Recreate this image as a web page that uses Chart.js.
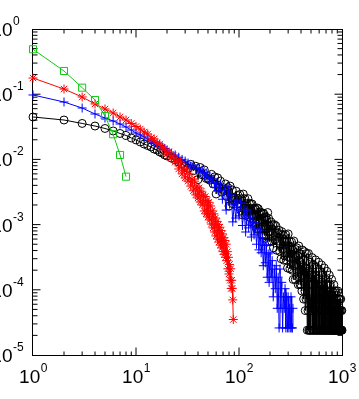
<!DOCTYPE html>
<html lang="en">
<head>
    <meta charset="UTF-8">
    <title>Distribution</title>
    <script src="https://cdn.jsdelivr.net/npm/chart.js"></script>
    <style>
        body { margin: 0; background: #fff; }
        canvas { display: block; }
    </style>
</head>
<body>
<canvas id="chart" width="359" height="399"></canvas>

<script>
    // tick labels
    const xTickVals = [1, 10, 100, 1000];
    const xTickExps = ["0", "1", "2", "3"];
    const yTickVals = [1, 0.1, 0.01, 0.001, 0.0001, 0.00001];
    const yTickExps = ["0", "-1", "-2", "-3", "-4", "-5"];

    // green squares
    const greenX = [1, 2, 3, 4, 5, 6, 7, 8];
    const greenY = [0.489, 0.227, 0.126, 0.0815, 0.0463, 0.0243, 0.0117, 0.00543];

    // red stars
    const redX = [1, 2, 3, 4, 5, 6, 7, 8, 9, 10,
        11, 12, 13, 14, 15, 16, 17, 18, 19, 20,
        21, 22, 23, 24, 25, 26, 27, 28, 29, 30,
        31, 32, 33, 34, 35, 36, 37, 38, 39, 40,
        41, 42, 43, 44, 45, 46, 47, 48, 49, 50,
        51, 52, 53, 54, 55, 56, 57, 58, 59, 60,
        61, 62, 63, 64, 65, 66, 67, 68, 69, 70,
        71, 72, 73, 74, 75, 76, 77, 78, 79, 80,
        81, 82, 83, 84, 85, 86, 87, 88];
    const redY = [0.177, 0.120, 0.0906, 0.0708, 0.0593, 0.0515, 0.0447, 0.0402, 0.0356, 0.0320,
        0.0292, 0.0263, 0.0245, 0.0213, 0.0206, 0.0179, 0.0172, 0.0150, 0.0144, 0.0121,
        0.0130, 0.0105, 0.0113, 0.0091, 0.0098, 0.00713, 0.0091, 0.0060, 0.0074, 0.0052,
        0.0069, 0.00465, 0.0060, 0.0039, 0.0050, 0.0033, 0.00465, 0.00285, 0.0039, 0.00256,
        0.00365, 0.00222, 0.00325, 0.0020, 0.00285, 0.00162, 0.0027, 0.00146, 0.00235, 0.00131,
        0.0022, 0.00118, 0.00193, 0.00102, 0.00162, 0.00089, 0.00146, 0.00077, 0.00126, 0.00067,
        0.00112, 0.0006, 0.0010, 0.00054, 0.00091, 0.000485, 0.00081, 0.00044, 0.00072, 0.000385,
        0.00063, 0.00035, 0.00057, 0.000315, 0.0005, 0.00028, 0.000385, 0.00021, 0.000315, 0.000175,
        0.000245, 0.00014, 0.00021, 0.000105, 0.00014, 0.000105, 0.00007, 0.000035];

    // blue pluses
    const blueX = [1, 2, 3, 4, 5, 6, 7, 8, 9, 10, 11, 12, 13, 14, 15, 16, 17, 18, 19, 20,
        22, 24, 26, 28, 30,
        32, 34, 36, 38, 40, 42, 44, 46, 48, 50, 52, 54, 56, 58, 60,
        63, 66, 69, 72, 75, 78, 81, 84, 87, 90, 93, 96,
        100, 104, 108, 112, 116, 120, 124, 128, 132, 136, 140, 144, 148, 152, 156,
        160, 164, 168, 172, 176, 180, 184, 188, 192, 196,
        200, 205, 210, 215, 220, 225, 230, 235, 240, 245, 250, 255, 260, 265, 270,
        275, 280, 285, 290, 295, 300, 305, 310, 315, 320, 325, 330, 334];
    const blueY = [0.0973, 0.0759, 0.0614, 0.0497, 0.0431, 0.0388, 0.0349, 0.0314, 0.0282, 0.0254, 0.0237, 0.0221, 0.0206, 0.0192, 0.0182, 0.0172, 0.0163, 0.0155, 0.0147, 0.0139,
        0.0125, 0.0117, 0.0108, 0.0100, 0.0094,
        0.0088, 0.0079, 0.0082, 0.0071, 0.0074, 0.0064, 0.0069, 0.0056, 0.0062, 0.0050, 0.0056, 0.00435, 0.0050, 0.00375, 0.00435,
        0.0033, 0.0042, 0.00245, 0.0034, 0.00167, 0.0039, 0.00207, 0.00294, 0.0011, 0.00207, 0.00126, 0.00238,
        0.00136, 0.00215, 0.00097, 0.0017, 0.00077, 0.00167, 0.00089, 0.00136, 0.000645, 0.0011, 0.000695, 0.00106, 0.0005, 0.00086, 0.00041,
        0.00083, 0.00037, 0.00063, 0.000234, 0.00048, 0.00026, 0.00049, 0.000156, 0.000355, 0.00013,
        0.00037, 0.000156, 0.00028, 0.000078, 0.000208, 0.000104, 0.000234, 0.000052, 0.000156, 0.000026, 0.000208, 0.000052, 0.00013, 0.000026, 0.000078,
        0.000052, 0.000104, 0.000026, 0.000078, 0.000026, 0.000078, 0.000026, 0.000052, 0.000026, 0.000078, 0.000026, 0.000026, 0.000052];

    // black circles
    const blackX = [1, 2, 3, 4, 5, 6, 7, 8, 9, 10, 11, 12, 13, 14, 15, 16, 17, 18, 19, 20,
        22, 24, 26, 28, 30, 32, 34, 36, 38,
        40, 42, 44, 46, 48, 50, 52, 54, 56, 58, 60, 62, 64, 66, 68, 70, 72, 74, 76, 78,
        80, 82, 84, 86, 88, 90, 92, 94, 96, 98,
        100, 102, 104, 106, 108, 110, 112, 114, 116, 118, 120, 122, 124, 126, 128, 130, 132, 134, 136, 138,
        140, 142, 144, 146, 148, 150, 152, 154, 156, 158, 160, 162, 164, 166, 168, 170, 172, 174, 176, 178,
        180, 182, 184, 186, 188, 190, 192, 194, 196, 198,
        200, 204, 208, 212, 216, 220, 224, 228, 232, 236, 240, 244, 248, 252, 256, 260, 264, 268, 272, 276,
        280, 284, 288, 292, 296, 300, 304, 308, 312, 316, 320, 324, 328, 332, 336, 340, 344, 348, 352, 356,
        360, 364, 368, 372, 376, 380, 384, 388, 392, 396,
        400, 404, 408, 412, 416, 420, 424, 428, 432, 436, 440, 444, 448, 452, 456, 460, 464, 468, 472, 476,
        480, 484, 488, 492, 496, 500, 504, 508, 512, 516, 520, 524, 528, 532, 536, 540, 544, 548, 552, 556,
        560, 564, 568, 572, 576, 580, 584, 588, 592, 596, 600, 604, 608, 612, 616, 620, 624, 628, 632, 636,
        640, 644, 648, 652, 656, 660, 664, 668, 672, 676, 680, 684, 688, 692, 696, 700, 704, 708, 712, 716,
        720, 724, 728, 732, 736, 740, 744, 748, 752, 756, 760, 764, 768, 772, 776, 780, 784, 788, 792, 796,
        800, 804, 808, 812, 816, 820, 824, 828, 832, 836, 840, 844, 848, 852, 856, 860, 864, 868, 872, 876,
        880, 884, 888, 892, 896, 900, 904, 908, 912, 916, 920, 924, 928, 932, 936, 940, 944, 948, 952, 956,
        960, 964, 968, 972, 976, 980, 984, 988, 992, 996, 1000];
    const blackY = [0.0447, 0.0402, 0.0356, 0.0325, 0.0298, 0.0273, 0.0250, 0.0233, 0.0213, 0.0199, 0.0185, 0.0172, 0.0163, 0.0155, 0.0144, 0.0139, 0.0130, 0.0125, 0.0117, 0.0113,
        0.0105, 0.0098, 0.0091, 0.0085, 0.0079, 0.0073, 0.0084, 0.0067, 0.00785,
        0.0049, 0.0075, 0.0058, 0.0069, 0.0051, 0.0051, 0.0048, 0.0059, 0.0042, 0.0054, 0.00295, 0.0052, 0.0037, 0.00465, 0.00315, 0.0035, 0.0033, 0.0042, 0.0027, 0.0037,
        0.00193, 0.0039, 0.00256, 0.0034, 0.00207, 0.0026, 0.00238, 0.00325, 0.0019, 0.00278,
        0.0021, 0.0029, 0.00165, 0.00248, 0.00141, 0.00294, 0.00177, 0.00249, 0.00138, 0.0021, 0.00173, 0.0025, 0.00132, 0.00209, 0.0011, 0.0021, 0.00142, 0.00207, 0.00106, 0.0017,
        0.00141, 0.0018, 0.00104, 0.0017, 0.00086, 0.0018, 0.00116, 0.00175, 0.00086, 0.00143, 0.00118, 0.00155, 0.00086, 0.00146, 0.000695, 0.0015, 0.00094, 0.00147, 0.00068, 0.00118,
        0.00095, 0.0013, 0.00068, 0.00119, 0.00054, 0.00153, 0.00077, 0.00124, 0.00055, 0.00096,
        0.00079, 0.0011, 0.00055, 0.00099, 0.00044, 0.0010, 0.000585, 0.000955, 0.000405, 0.00075, 0.00056, 0.00082, 0.00039, 0.00072, 0.0003, 0.00078, 0.00042, 0.0007, 0.000285, 0.00055,
        0.00042, 0.0007, 0.000285, 0.00055, 0.000216, 0.00072, 0.000315, 0.00055, 0.00021, 0.00041, 0.00031, 0.00054, 0.0002, 0.00041, 0.000144, 0.00056, 0.000235, 0.00042, 0.000144, 0.000315,
        0.00025, 0.00044, 0.00016, 0.00033, 0.00012, 0.00047, 0.000192, 0.00035, 0.00012, 0.000264,
        0.00012, 0.00024, 0.000096, 0.000408, 0.000168, 0.000288, 0.000072, 0.000192, 0.000384, 0.000096, 0.000048, 0.000216, 0.000072, 0.00036, 0.000144, 0.000024, 0.000192, 0.000048, 0.00036, 0.000024,
        0.00012, 0.000024, 0.000264, 0.000024, 0.000072, 0.000024, 0.000168, 0.000048, 0.000312, 0.000024, 0.00012, 0.000024, 0.00024, 0.000024, 0.000072, 0.000024, 0.000168, 0.000048, 0.000288, 0.000024,
        0.000096, 0.000024, 0.000216, 0.000024, 0.000072, 0.000024, 0.000144, 0.000048, 0.000264, 0.000024, 0.000096, 0.000024, 0.000192, 0.000024, 0.000072, 0.000024, 0.00012, 0.000048, 0.00024, 0.000024,
        0.000072, 0.000024, 0.000168, 0.000024, 0.000048, 0.000024, 0.00012, 0.000048, 0.000216, 0.000024, 0.000072, 0.000024, 0.000144, 0.000024, 0.000048, 0.000024, 0.000096, 0.000048, 0.000192, 0.000024,
        0.000072, 0.000024, 0.00012, 0.000024, 0.000048, 0.000024, 0.000096, 0.000048, 0.000168, 0.000024, 0.000048, 0.000024, 0.00012, 0.000024, 0.000072, 0.000024, 0.000072, 0.000048, 0.000144, 0.000024,
        0.000048, 0.000024, 0.000096, 0.000024, 0.000048, 0.000024, 0.000072, 0.000024, 0.00012, 0.000024, 0.000048, 0.000024, 0.000096, 0.000024, 0.000048, 0.000024, 0.000072, 0.000024, 0.000096, 0.000024,
        0.000048, 0.000024, 0.000072, 0.000024, 0.000048, 0.000024, 0.000048, 0.000024, 0.000096, 0.000024, 0.000048, 0.000024, 0.000072, 0.000024, 0.000024, 0.000024, 0.000048, 0.000024, 0.000072, 0.000024,
        0.000048, 0.000024, 0.000024, 0.000072, 0.000024, 0.000024, 0.000048, 0.000024, 0.000024, 0.000048, 0.000024];

    function toPoints(xs, ys) {
        return xs.map((x, i) => ({ x: x, y: ys[i] }));
    }

    const labelFont = '"Liberation Sans", Arial, sans-serif';

    // box with inward log ticks on all four sides, and 10^n labels
    const framePlugin = {
        id: "frame",
        beforeDatasetsDraw(chart) {
            const ctx = chart.ctx;
            const a = chart.chartArea;
            const xs = chart.scales.x, ys = chart.scales.y;
            const L = a.left - 0.5, R = a.right + 0.5, T = a.top + 0.5, B = a.bottom + 0.5;
            ctx.save();
            ctx.strokeStyle = "#000";
            ctx.lineWidth = 1;
            ctx.strokeRect(L, T, R - L, B - T);

            ctx.beginPath();
            for (let k = 0; k < 3; k++) {
                for (let m = 1; m <= 9; m++) {
                    if (k === 0 && m === 1) continue;
                    const px = xs.getPixelForValue(m * Math.pow(10, k));
                    const len = m === 1 ? 8 : 4;
                    ctx.moveTo(px, B); ctx.lineTo(px, B - len);
                    ctx.moveTo(px, T); ctx.lineTo(px, T + len);
                }
            }
            for (let k = -5; k < 0; k++) {
                for (let m = 1; m <= 9; m++) {
                    if (k === -5 && m === 1) continue;
                    const py = ys.getPixelForValue(m * Math.pow(10, k));
                    const len = m === 1 ? 8 : 5;
                    ctx.moveTo(L, py); ctx.lineTo(L + len, py);
                    ctx.moveTo(R, py); ctx.lineTo(R - len, py);
                }
            }
            ctx.stroke();
            ctx.restore();
        },
        afterDraw(chart) {
            const ctx = chart.ctx;
            const xs = chart.scales.x, ys = chart.scales.y;
            ctx.save();
            ctx.fillStyle = "#000";
            ctx.textBaseline = "alphabetic";

            // x labels, centred under the tick
            xTickVals.forEach((v, i) => {
                const px = xs.getPixelForValue(v);
                ctx.font = "19px " + labelFont;
                const wb = ctx.measureText("10").width;
                ctx.font = "12px " + labelFont;
                const ws = ctx.measureText(xTickExps[i]).width;
                const start = px - (wb + ws) / 2;
                ctx.font = "19px " + labelFont;
                ctx.textAlign = "left";
                ctx.fillText("10", start, 383);
                ctx.font = "12px " + labelFont;
                ctx.fillText(xTickExps[i], start + wb + 0.5, 372);
            });

            // y labels, cut off at the left edge like the original
            yTickVals.forEach((v, i) => {
                const py = ys.getPixelForValue(v);
                ctx.font = "19px " + labelFont;
                ctx.textAlign = "right";
                ctx.fillText("10", 12.5, py + 7);
                ctx.font = "12px " + labelFont;
                ctx.textAlign = "left";
                ctx.fillText(yTickExps[i], 13, py - 4);
            });
            ctx.restore();
        }
    };

    const ctx = document.getElementById("chart").getContext("2d");
    new Chart(ctx, {
        type: "scatter",
        data: {
            datasets: [
                {
                    label: "green",
                    data: toPoints(greenX, greenY),
                    showLine: true,
                    borderColor: "#10c810",
                    backgroundColor: "rgba(0,0,0,0)",
                    borderWidth: 1,
                    pointStyle: "rect",
                    pointRadius: 5,
                    pointBorderWidth: 1,
                    clip: false,
                    order: 1
                },
                {
                    label: "red",
                    data: toPoints(redX, redY),
                    showLine: true,
                    borderColor: "#ff0000",
                    backgroundColor: "rgba(0,0,0,0)",
                    borderWidth: 1,
                    pointStyle: "star",
                    pointRadius: 4.5,
                    pointBorderWidth: 1,
                    clip: false,
                    order: 2
                },
                {
                    label: "blue",
                    data: toPoints(blueX, blueY),
                    showLine: true,
                    borderColor: "#0000ff",
                    backgroundColor: "rgba(0,0,0,0)",
                    borderWidth: 1,
                    pointStyle: "cross",
                    pointRadius: 4.5,
                    pointBorderWidth: 1,
                    clip: false,
                    order: 3
                },
                {
                    label: "black",
                    data: toPoints(blackX, blackY),
                    showLine: true,
                    borderColor: "#000000",
                    backgroundColor: "rgba(0,0,0,0)",
                    borderWidth: 1,
                    pointStyle: "circle",
                    pointRadius: 4,
                    pointBorderWidth: 1,
                    clip: false,
                    order: 4
                }
            ]
        },
        options: {
            responsive: false,
            animation: false,
            layout: { padding: { left: 33, right: 17, top: 29, bottom: 44 } },
            plugins: {
                legend: { display: false },
                tooltip: { enabled: false }
            },
            scales: {
                x: { type: "logarithmic", min: 1, max: 1000, display: false },
                y: { type: "logarithmic", min: 0.00001, max: 1, display: false }
            }
        },
        plugins: [framePlugin]
    });
</script>
</body>
</html>
